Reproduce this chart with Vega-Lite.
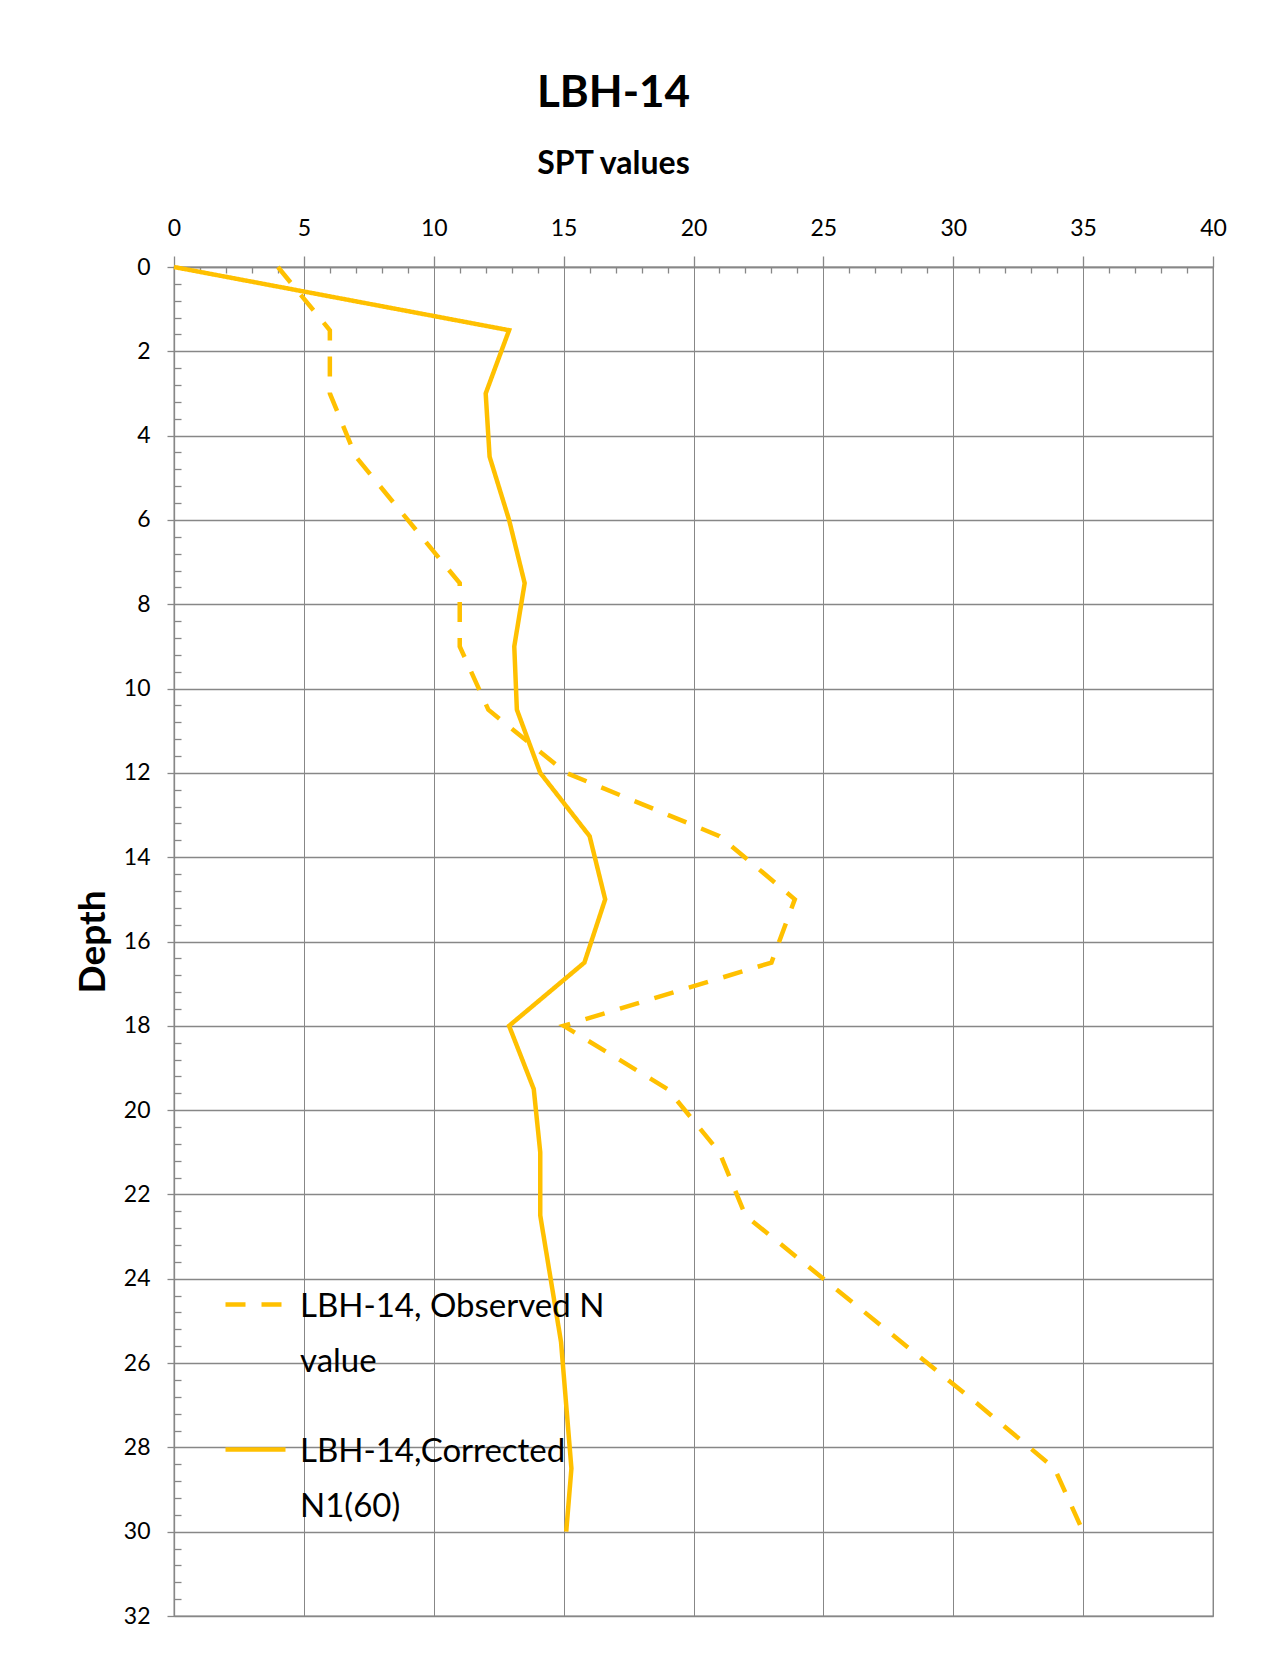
{
  "$schema": "https://vega.github.io/schema/vega-lite/v6.json",
  "autosize": {"type": "none"},
  "padding": {"left": 174, "top": 267, "right": 51, "bottom": 50},
  "width": 1039,
  "height": 1349,
  "background": "white",
  "title": {
    "text": "LBH-14",
    "font": "Lato",
    "fontSize": 44,
    "fontWeight": "bold",
    "color": "black",
    "anchor": "middle",
    "frame": "group",
    "dx": -80,
    "offset": -4,
    "baseline": "alphabetic"
  },
  "data": {
    "values": [
      {"series": "LBH-14, Observed N value", "depth": 0, "spt": 4.0},
      {"series": "LBH-14, Observed N value", "depth": 1.5, "spt": 6.0},
      {"series": "LBH-14, Observed N value", "depth": 3, "spt": 6.0},
      {"series": "LBH-14, Observed N value", "depth": 4.5, "spt": 7.0},
      {"series": "LBH-14, Observed N value", "depth": 6, "spt": 9.0},
      {"series": "LBH-14, Observed N value", "depth": 7.5, "spt": 11.0},
      {"series": "LBH-14, Observed N value", "depth": 9, "spt": 11.0},
      {"series": "LBH-14, Observed N value", "depth": 10.5, "spt": 12.1},
      {"series": "LBH-14, Observed N value", "depth": 12, "spt": 15.1},
      {"series": "LBH-14, Observed N value", "depth": 13.5, "spt": 21.0},
      {"series": "LBH-14, Observed N value", "depth": 15, "spt": 23.9},
      {"series": "LBH-14, Observed N value", "depth": 16.5, "spt": 23.0},
      {"series": "LBH-14, Observed N value", "depth": 18, "spt": 15.0},
      {"series": "LBH-14, Observed N value", "depth": 19.5, "spt": 19.0},
      {"series": "LBH-14, Observed N value", "depth": 21, "spt": 21.0},
      {"series": "LBH-14, Observed N value", "depth": 22.5, "spt": 22.0},
      {"series": "LBH-14, Observed N value", "depth": 24, "spt": 25.0},
      {"series": "LBH-14, Observed N value", "depth": 25.5, "spt": 28.0},
      {"series": "LBH-14, Observed N value", "depth": 27, "spt": 31.0},
      {"series": "LBH-14, Observed N value", "depth": 28.5, "spt": 33.9},
      {"series": "LBH-14, Observed N value", "depth": 30, "spt": 35.0},
      {"series": "LBH-14,Corrected N1(60)", "depth": 0, "spt": 0},
      {"series": "LBH-14,Corrected N1(60)", "depth": 1.5, "spt": 12.9},
      {"series": "LBH-14,Corrected N1(60)", "depth": 3, "spt": 12.0},
      {"series": "LBH-14,Corrected N1(60)", "depth": 4.5, "spt": 12.15},
      {"series": "LBH-14,Corrected N1(60)", "depth": 6, "spt": 12.9},
      {"series": "LBH-14,Corrected N1(60)", "depth": 7.5, "spt": 13.5},
      {"series": "LBH-14,Corrected N1(60)", "depth": 9, "spt": 13.1},
      {"series": "LBH-14,Corrected N1(60)", "depth": 10.5, "spt": 13.2},
      {"series": "LBH-14,Corrected N1(60)", "depth": 12, "spt": 14.1},
      {"series": "LBH-14,Corrected N1(60)", "depth": 13.5, "spt": 16.0},
      {"series": "LBH-14,Corrected N1(60)", "depth": 15, "spt": 16.6},
      {"series": "LBH-14,Corrected N1(60)", "depth": 16.5, "spt": 15.8},
      {"series": "LBH-14,Corrected N1(60)", "depth": 18, "spt": 12.9},
      {"series": "LBH-14,Corrected N1(60)", "depth": 19.5, "spt": 13.85},
      {"series": "LBH-14,Corrected N1(60)", "depth": 21, "spt": 14.1},
      {"series": "LBH-14,Corrected N1(60)", "depth": 22.5, "spt": 14.1},
      {"series": "LBH-14,Corrected N1(60)", "depth": 24, "spt": 14.5},
      {"series": "LBH-14,Corrected N1(60)", "depth": 25.5, "spt": 14.9},
      {"series": "LBH-14,Corrected N1(60)", "depth": 27, "spt": 15.1},
      {"series": "LBH-14,Corrected N1(60)", "depth": 28.5, "spt": 15.3},
      {"series": "LBH-14,Corrected N1(60)", "depth": 30, "spt": 15.1}
    ]
  },
  "layer": [
    {
      "transform": [{"filter": "datum.series == 'LBH-14, Observed N value'"}],
      "mark": {"type": "line", "color": "#FFC000", "strokeWidth": 4.5, "strokeCap": "butt", "strokeJoin": "miter", "clip": false},
      "encoding": {
        "x": {
          "field": "spt", "type": "quantitative",
          "scale": {"domain": [0, 40], "nice": false, "zero": false},
          "axis": {
            "orient": "top",
            "values": [0, 5, 10, 15, 20, 25, 30, 35, 40],
            "format": "d",
            "grid": true, "gridColor": "#878787", "gridWidth": 1,
            "domain": true, "domainColor": "#878787", "domainWidth": 1.3,
            "ticks": true, "tickColor": "#878787", "tickSize": 11, "tickWidth": 1.3,
            "labelFont": "Lato", "labelFontSize": 23, "labelColor": "black",
            "labelPadding": 16, "labelFlush": false, "labelOverlap": false, "labelBound": false,
            "title": "SPT values", "titleFont": "Lato", "titleFontSize": 32, "titleFontWeight": "bold",
            "titleColor": "black", "titleX": 439, "titleY": -104, "titleBaseline": "middle", "titleAlign": "center"
          }
        },
        "y": {
          "field": "depth", "type": "quantitative",
          "scale": {"domain": [0, 32], "reverse": true, "nice": false, "zero": false},
          "axis": {
            "orient": "left",
            "values": [0, 2, 4, 6, 8, 10, 12, 14, 16, 18, 20, 22, 24, 26, 28, 30, 32],
            "format": "d",
            "grid": true, "gridColor": "#878787", "gridWidth": 1.5,
            "domain": true, "domainColor": "#878787", "domainWidth": 1.3,
            "ticks": true, "tickColor": "#878787", "tickSize": 7, "tickWidth": 1.3,
            "labelFont": "Lato", "labelFontSize": 23, "labelColor": "black",
            "labelPadding": 17, "labelFlush": false, "labelOverlap": false, "labelBound": false,
            "title": "Depth", "titleFont": "Lato", "titleFontSize": 37, "titleFontWeight": "bold",
            "titleColor": "black", "titleX": -81, "titleY": 674.5, "titleAngle": -90,
            "titleBaseline": "middle", "titleAlign": "center"
          }
        },
        "order": {"field": "depth", "type": "quantitative"},
        "strokeDash": {
          "field": "series", "type": "nominal",
          "scale": {"domain": ["LBH-14, Observed N value", "LBH-14,Corrected N1(60)"], "range": [[20, 16], [1, 0]]},
          "legend": {
            "orient": "none", "legendX": 49, "legendY": 1005,
            "title": null, "padding": 0,
            "symbolType": "stroke", "symbolSize": 3600, "symbolStrokeWidth": 4.5, "symbolStrokeColor": "#FFC000",
            "labelFont": "Lato", "labelFontSize": 33, "labelColor": "black", "labelOffset": 12, "labelLimit": 0,
            "rowPadding": 38,
            "labelExpr": "datum.label == 'LBH-14, Observed N value' ? ['LBH-14, Observed N', 'value'] : ['LBH-14,Corrected', 'N1(60)']",
            "encode": {"labels": {"update": {"lineHeight": {"value": 55}, "dy": {"value": 2}}}}
          }
        }
      }
    },
    {
      "transform": [{"filter": "datum.series == 'LBH-14,Corrected N1(60)'"}],
      "mark": {"type": "line", "color": "#FFC000", "strokeWidth": 4.5, "strokeJoin": "miter", "clip": false},
      "encoding": {
        "x": {
          "field": "spt", "type": "quantitative",
          "scale": {"domain": [0, 40], "nice": false, "zero": false},
          "axis": {
            "orient": "top",
            "values": [1, 2, 3, 4, 6, 7, 8, 9, 11, 12, 13, 14, 16, 17, 18, 19, 21, 22, 23, 24, 26, 27, 28, 29, 31, 32, 33, 34, 36, 37, 38, 39],
            "grid": false, "domain": false, "labels": false, "title": null,
            "ticks": true, "tickColor": "#878787", "tickSize": -6, "tickWidth": 1.3
          }
        },
        "y": {
          "field": "depth", "type": "quantitative",
          "scale": {"domain": [0, 32], "reverse": true, "nice": false, "zero": false},
          "axis": {
            "orient": "left",
            "values": [0.4, 0.8, 1.2, 1.6, 2.4, 2.8, 3.2, 3.6, 4.4, 4.8, 5.2, 5.6, 6.4, 6.8, 7.2, 7.6, 8.4, 8.8, 9.2, 9.6, 10.4, 10.8, 11.2, 11.6, 12.4, 12.8, 13.2, 13.6, 14.4, 14.8, 15.2, 15.6, 16.4, 16.8, 17.2, 17.6, 18.4, 18.8, 19.2, 19.6, 20.4, 20.8, 21.2, 21.6, 22.4, 22.8, 23.2, 23.6, 24.4, 24.8, 25.2, 25.6, 26.4, 26.8, 27.2, 27.6, 28.4, 28.8, 29.2, 29.6, 30.4, 30.8, 31.2, 31.6],
            "grid": false, "domain": false, "labels": false, "title": null,
            "ticks": true, "tickColor": "#878787", "tickSize": -7, "tickWidth": 1.3
          }
        },
        "order": {"field": "depth", "type": "quantitative"},
        "strokeDash": {
          "field": "series", "type": "nominal",
          "scale": {"domain": ["LBH-14, Observed N value", "LBH-14,Corrected N1(60)"], "range": [[20, 16], [1, 0]]}
        }
      }
    }
  ],
  "resolve": {"axis": {"x": "independent", "y": "independent"}},
  "config": {
    "view": {"stroke": "#878787", "strokeWidth": 1.3}
  }
}
